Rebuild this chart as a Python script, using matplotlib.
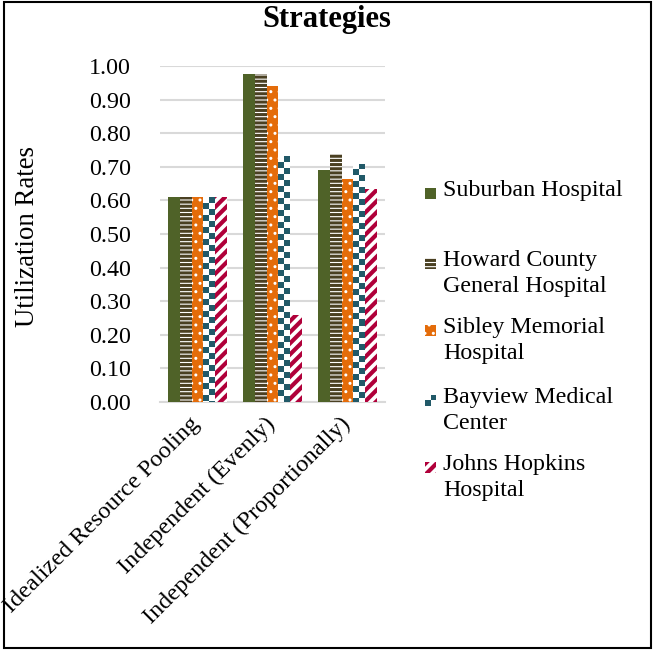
import matplotlib
matplotlib.use("Agg")
import matplotlib.pyplot as plt
import matplotlib.transforms as mtransforms
import numpy as np
from matplotlib.patches import Rectangle
from matplotlib.colors import ListedColormap

categories = ["Idealized Resource Pooling", "Independent (Evenly)", "Independent (Proportionally)"]
series_names = ["Suburban Hospital", "Howard County\nGeneral Hospital", "Sibley Memorial\nHospital",
                "Bayview Medical\nCenter", "Johns Hopkins\nHospital"]
suburban = [0.61, 0.977, 0.69]
howard = [0.61, 0.975, 0.737]
sibley = [0.61, 0.94, 0.664]
bayview = [0.61, 0.731, 0.709]
hopkins = [0.61, 0.26, 0.635]
series_values = [suburban, howard, sibley, bayview, hopkins]
yticks = [0.0, 0.1, 0.2, 0.3, 0.4, 0.5, 0.6, 0.7, 0.8, 0.9, 1.0]

plt.rcParams['font.family'] = ['Liberation Serif', 'DejaVu Serif']

W, H = 653, 650
fig = plt.figure(figsize=(W / 100, H / 100), dpi=100)
ax = fig.add_axes([160 / W, 1 - 402 / H, 225 / W, 336 / H])

teal = "#215968"
styles = [
    dict(facecolor="#4F6228", edgecolor="#4F6228", hatch=None, hlw=1.0),
    dict(facecolor="white", edgecolor="#4A4022", hatch="----", hlw=2.2),
    dict(facecolor="#E46C0A", edgecolor="white", hatch="..", hlw=1.0),
    dict(facecolor="white", edgecolor=teal, hatch=None, hlw=1.0),
    dict(facecolor="white", edgecolor="#B0003A", hatch="///", hlw=3.0),
]

x = np.arange(len(categories))
n = len(series_values)
group_w = 0.775
bw = group_w / n
cmap = ListedColormap(["white", teal])
cell = 6.0 / 336.0


def make_bar(ax_, xpos, val, st, width):
    with plt.rc_context({'hatch.linewidth': st['hlw']}):
        bars = ax_.bar(xpos, val, width=width, color=st['facecolor'], edgecolor=st['edgecolor'],
                       hatch=st['hatch'], linewidth=0, zorder=3)
    return bars


for i, (vals, st) in enumerate(zip(series_values, styles)):
    xpos = x - group_w / 2 + bw * (i + 0.5)
    bars = make_bar(ax, xpos, vals, st, bw)
    if i == 3:
        for b, v in zip(bars, vals):
            nrows = int(np.ceil(v / cell))
            arr = np.array([[(r + c) % 2 for c in range(2)] for r in range(nrows)])
            im = ax.imshow(arr, extent=(b.get_x(), b.get_x() + b.get_width(), v - nrows * cell, v),
                           origin='upper', aspect='auto', interpolation='nearest', cmap=cmap,
                           vmin=0, vmax=1, zorder=3.5)
            im.set_clip_path(b)

ax.set_xlim(-0.5, len(categories) - 0.5)
ax.set_ylim(0, 1.0)
ax.set_yticks(yticks)
ax.set_yticklabels([f"{t:.2f}" for t in yticks], fontsize=17.3)
ax.set_xticks(x)
ax.set_xticklabels(categories, fontsize=17.5, rotation=45, ha='right', rotation_mode='anchor')
ax.tick_params(axis='both', length=0)
ax.tick_params(axis='y', pad=21)
ax.tick_params(axis='x', pad=6)
offset = mtransforms.ScaledTranslation(-0.08, -0.03, fig.dpi_scale_trans)
for lbl in ax.get_xticklabels():
    lbl.set_transform(lbl.get_transform() + offset)
ax.grid(axis='y', color='#D9D9D9', linewidth=1.5, zorder=0)
ax.set_axisbelow(True)
for s in ['top', 'right', 'left']:
    ax.spines[s].set_visible(False)
ax.spines['bottom'].set_color('#D9D9D9')
ax.spines['bottom'].set_linewidth(1.5)

fig.text(28 / W, 1 - 237 / H, "Utilization Rates", rotation=90, fontsize=19.3, ha='center', va='center')
fig.text(0.5, 1 - 20 / H, "Strategies", fontsize=22, fontweight='bold', ha='center', va='center')

# legend (manual)
leg_y = [193, 263, 330, 400, 467]
for i, (name, st, yy) in enumerate(zip(series_names, styles, leg_y)):
    rx, ry, rs = 425 / W, 1 - (yy + 5.5) / H, 11
    with plt.rc_context({'hatch.linewidth': st['hlw']}):
        r = Rectangle((rx, ry), rs / W, rs / H, transform=fig.transFigure, facecolor=st['facecolor'],
                      edgecolor=st['edgecolor'], hatch=st['hatch'], linewidth=0)
    fig.patches.append(r)
    if i == 3:
        fig.patches.append(Rectangle((rx, ry), 5.5 / W, 5.5 / H, transform=fig.transFigure,
                                     facecolor=teal, linewidth=0))
        fig.patches.append(Rectangle((rx + 5.5 / W, ry + 5.5 / H), 5.5 / W, 5.5 / H,
                                     transform=fig.transFigure, facecolor=teal, linewidth=0))
    fig.text(443 / W, 1 - (yy - 13) / H, name, fontsize=17.3, ha='left', va='top', linespacing=1.3)

fig.patches.append(Rectangle((4 / W, 2 / H), 647 / W, 646 / H, transform=fig.transFigure,
                             facecolor='none', edgecolor='black', linewidth=1.5))

fig.savefig("out.png", dpi=100)
